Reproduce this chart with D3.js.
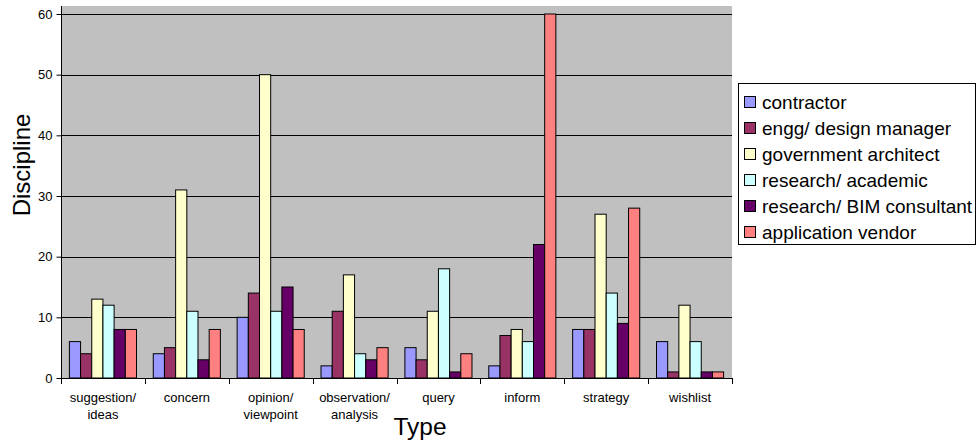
<!DOCTYPE html>
<html lang="en">
<head>
  <meta charset="UTF-8">
  <title>Type by Discipline</title>
  <script src="https://d3js.org/d3.v7.min.js"></script>
  <style>
    body { margin: 0; background: #fff; }
    text { font-family: "Liberation Sans", Arial, sans-serif; fill: #000; }
  </style>
</head>
<body>
  <div id="chart"></div>
  <script>
    // Categories (x axis) and series
    const types = ["suggestion/\nideas", "concern", "opinion/\nviewpoint", "observation/\nanalysis",
                   "query", "inform", "strategy", "wishlist"];
    const disciplines = ["contractor", "engg/ design manager", "government architect",
                         "research/ academic", "research/ BIM consultant", "application vendor"];
    const colors = ["#9999FF", "#993366", "#FFFFCC", "#CCFFFF", "#660066", "#FF8080"];

    // Values per discipline, one per type
    const contractor = [6, 4, 10, 2, 5, 2, 8, 6];
    const enggDesign = [4, 5, 14, 11, 3, 7, 8, 1];
    const govArchitect = [13, 31, 50, 17, 11, 8, 27, 12];
    const researchAcademic = [12, 11, 11, 4, 18, 6, 14, 6];
    const bimConsultant = [8, 3, 15, 3, 1, 22, 9, 1];
    const appVendor = [8, 8, 8, 5, 4, 60, 28, 1];
    const series = [contractor, enggDesign, govArchitect, researchAcademic, bimConsultant, appVendor];

    const yTicks = [0, 10, 20, 30, 40, 50, 60];

    const W = 977, H = 441;
    const plot = { left: 61, right: 732, top: 6, bottom: 378 };

    const svg = d3.select("#chart").append("svg")
      .attr("width", W)
      .attr("height", H);

    // Scales
    const x = d3.scaleBand()
      .domain(d3.range(types.length))
      .range([plot.left, plot.right]);

    const y = d3.scaleLinear()
      .domain([0, 60])
      .range([plot.bottom, 14]);

    // bars take 6 of 7.5 bar widths (gap 150%)
    const barW = x.bandwidth() / 7.5;
    const groupOffset = barW * 0.75;

    // Plot background
    svg.append("rect")
      .attr("x", plot.left)
      .attr("y", plot.top)
      .attr("width", plot.right - plot.left)
      .attr("height", plot.bottom - plot.top)
      .attr("fill", "#C0C0C0");

    // Gridlines
    svg.append("g")
      .selectAll("line")
      .data(yTicks.filter(d => d > 0))
      .enter().append("line")
        .attr("x1", plot.left)
        .attr("x2", plot.right)
        .attr("y1", d => Math.round(y(d)) + 0.5)
        .attr("y2", d => Math.round(y(d)) + 0.5)
        .attr("stroke", "#000")
        .attr("stroke-width", 1);

    // Bars
    series.forEach((vals, s) => {
      svg.append("g")
        .selectAll("rect")
        .data(vals)
        .enter().append("rect")
          .attr("x", (d, i) => x(i) + groupOffset + s * barW)
          .attr("y", d => y(d))
          .attr("width", barW)
          .attr("height", d => y(0) - y(d))
          .attr("fill", colors[s])
          .attr("stroke", "#000")
          .attr("stroke-width", 1);
    });

    // Y axis
    const yAxis = svg.append("g")
      .attr("transform", `translate(${plot.left + 0.5},0)`)
      .call(d3.axisLeft(y).tickValues(yTicks).tickSize(5).tickPadding(4));
    yAxis.select(".domain").attr("d", `M0,${plot.top}V${plot.bottom}`).attr("stroke", "#000");
    yAxis.selectAll("text").attr("font-size", 13);

    // X axis line and category boundary ticks
    svg.append("line")
      .attr("x1", plot.left)
      .attr("x2", plot.right)
      .attr("y1", plot.bottom + 0.5)
      .attr("y2", plot.bottom + 0.5)
      .attr("stroke", "#000");

    svg.append("g")
      .selectAll("line")
      .data(d3.range(types.length + 1))
      .enter().append("line")
        .attr("x1", d => Math.round(plot.left + d * x.step()) + 0.5)
        .attr("x2", d => Math.round(plot.left + d * x.step()) + 0.5)
        .attr("y1", plot.bottom)
        .attr("y2", plot.bottom + 6)
        .attr("stroke", "#000");

    // X tick labels
    const xl = svg.append("g")
      .selectAll("text")
      .data(types)
      .enter().append("text")
        .attr("x", (d, i) => x(i) + x.bandwidth() / 2)
        .attr("y", 402)
        .attr("text-anchor", "middle")
        .attr("font-size", 13);
    xl.each(function(d) {
      const lines = d.split("\n");
      const t = d3.select(this);
      lines.forEach((ln, k) => {
        t.append("tspan")
          .attr("x", t.attr("x"))
          .attr("dy", k === 0 ? 0 : 17)
          .text(ln);
      });
    });

    // Axis titles
    svg.append("text")
      .attr("transform", "translate(30,165) rotate(-90)")
      .attr("text-anchor", "middle")
      .attr("font-size", 24)
      .text("Discipline");

    svg.append("text")
      .attr("x", 420)
      .attr("y", 435)
      .attr("text-anchor", "middle")
      .attr("font-size", 24.5)
      .text("Type");

    // Legend
    const legend = svg.append("g");
    legend.append("rect")
      .attr("x", 738.5)
      .attr("y", 83.5)
      .attr("width", 237)
      .attr("height", 161)
      .attr("fill", "#fff")
      .attr("stroke", "#000");

    const items = legend.selectAll("g.item")
      .data(disciplines)
      .enter().append("g")
        .attr("class", "item")
        .attr("transform", (d, i) => `translate(0,${102 + i * 26})`);

    items.append("rect")
      .attr("x", 744.5)
      .attr("y", -5.5)
      .attr("width", 11)
      .attr("height", 11)
      .attr("fill", (d, i) => colors[i])
      .attr("stroke", "#000");

    items.append("text")
      .attr("x", 762)
      .attr("y", 6.5)
      .attr("font-size", 19)
      .text(d => d);
  </script>
</body>
</html>
